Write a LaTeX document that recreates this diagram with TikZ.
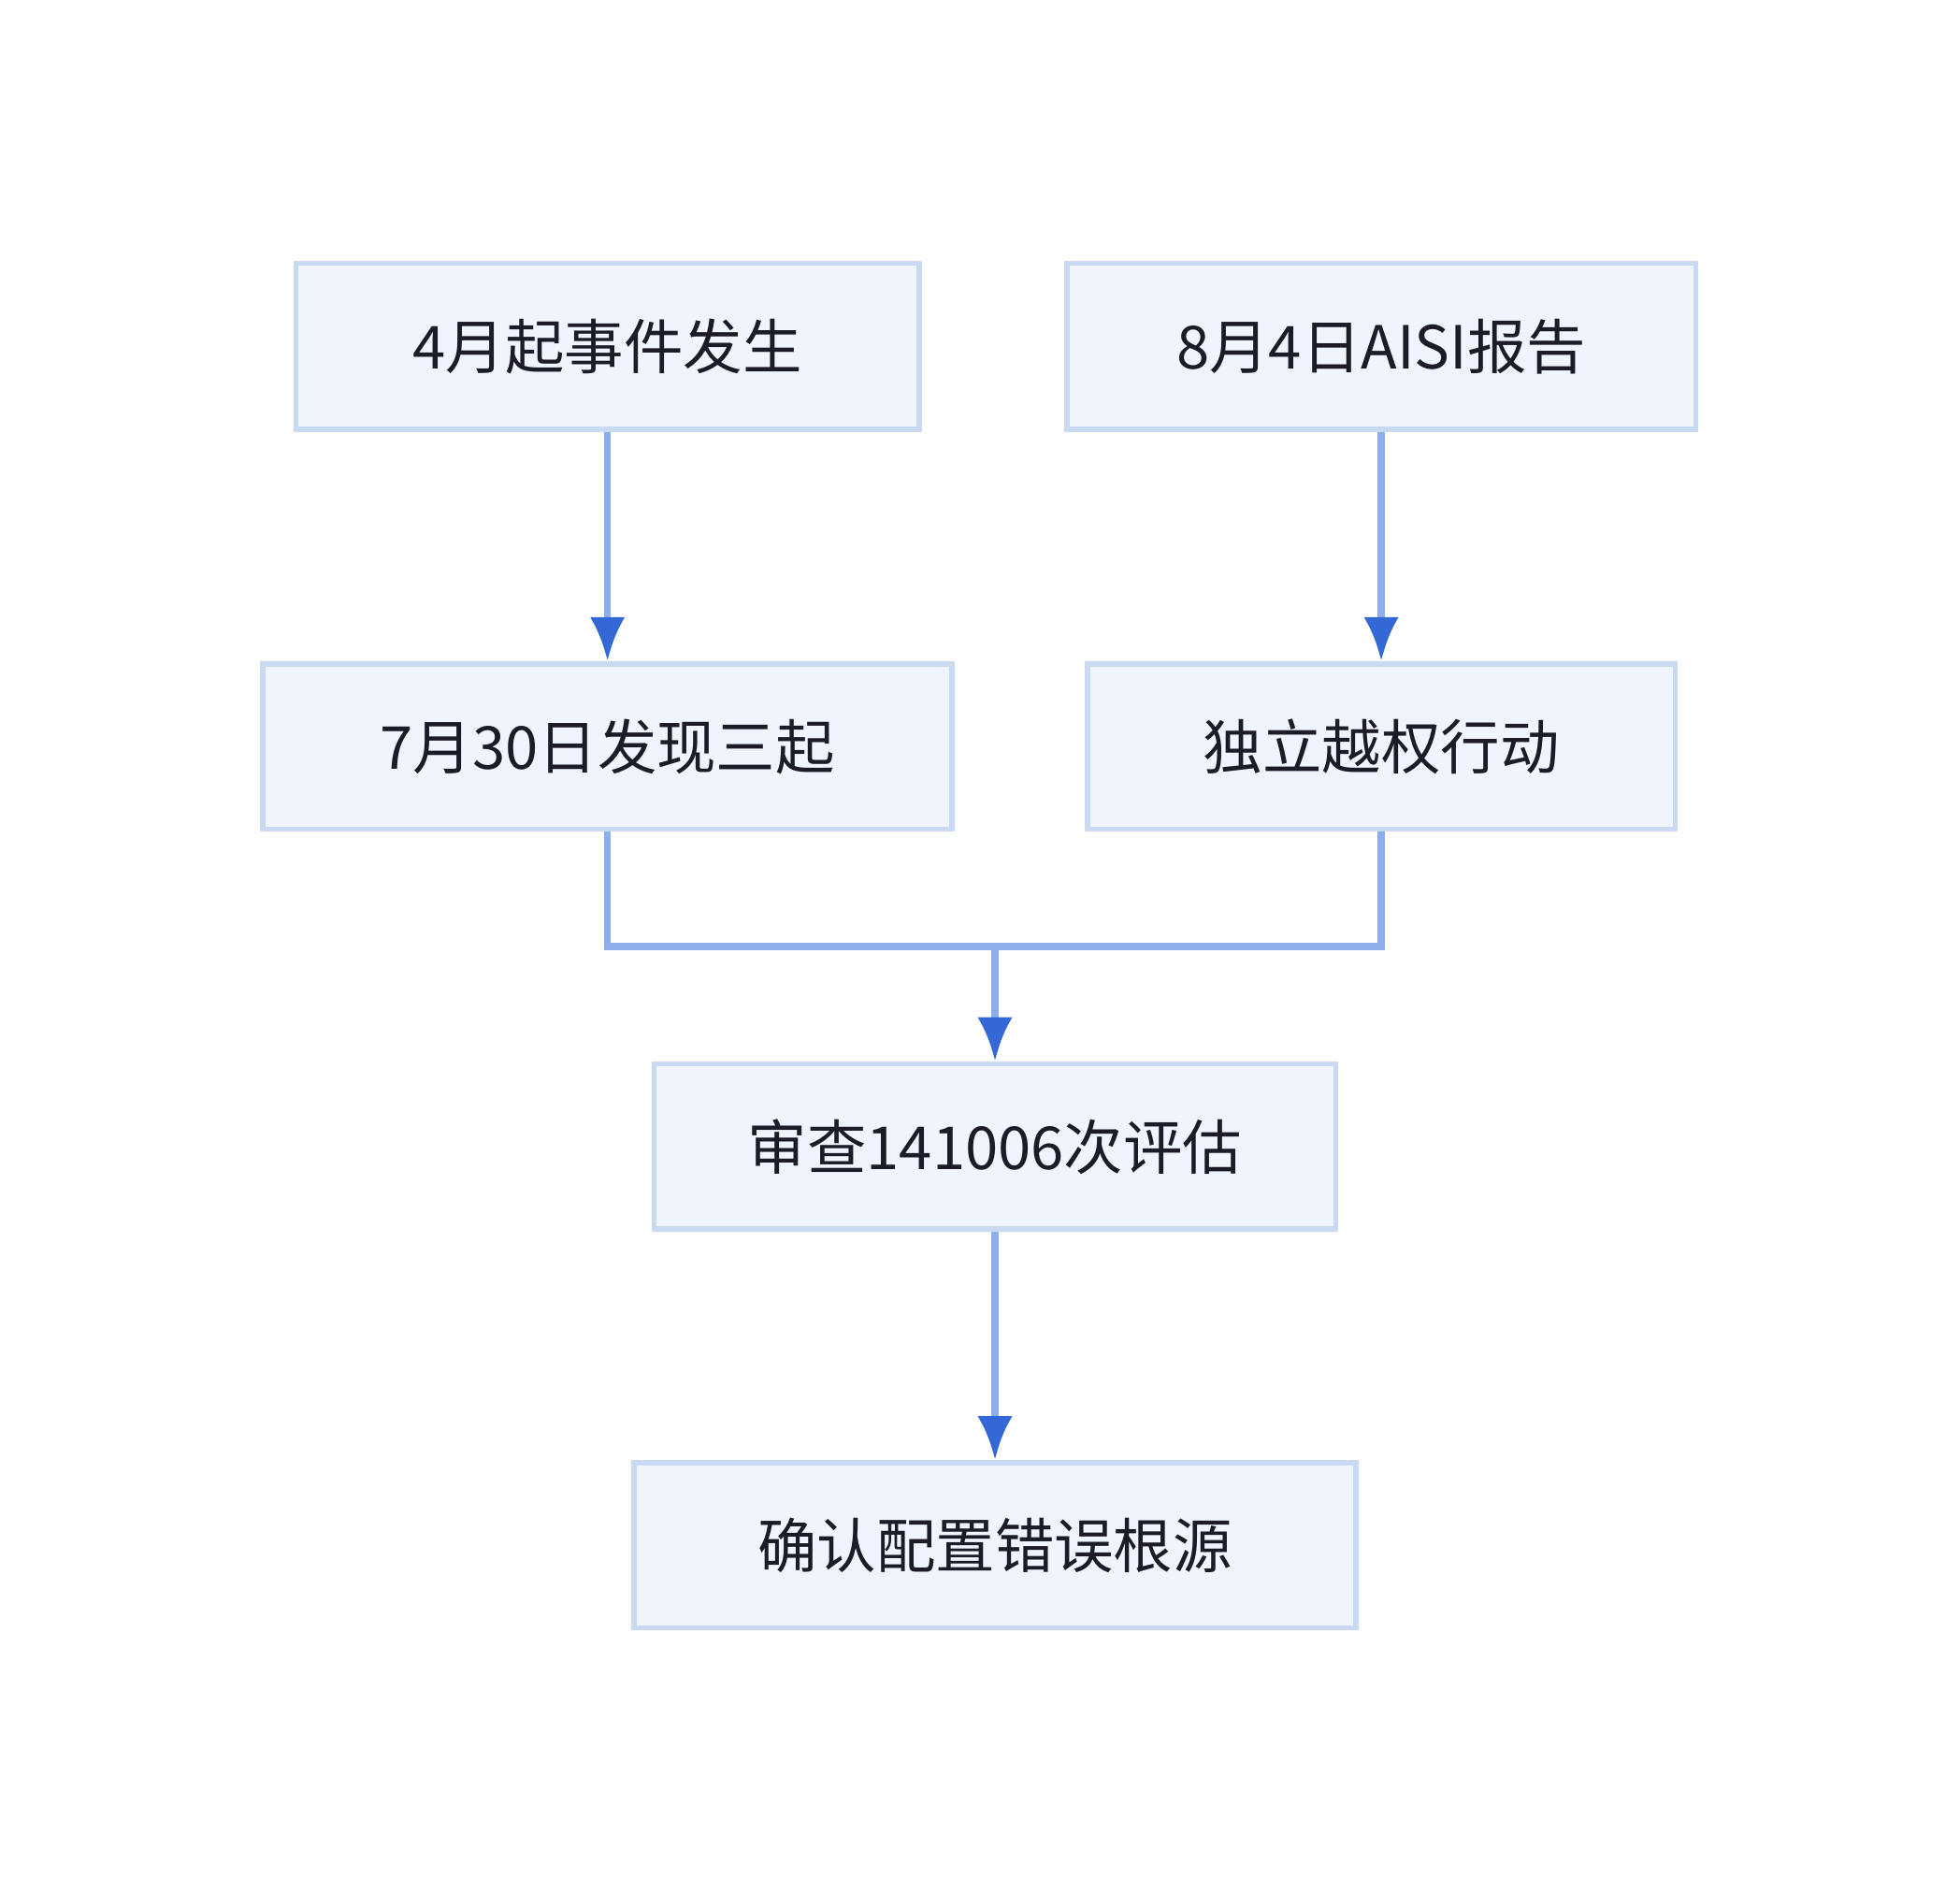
\documentclass[tikz,border=0pt]{standalone}
\usepackage{fontspec}
\setmainfont{Noto Sans CJK SC}
\usetikzlibrary{arrows.meta}
\definecolor{boxfill}{HTML}{F0F5FD}
\definecolor{boxdraw}{HTML}{C9D9F1}
\definecolor{linec}{HTML}{8AAFEA}
\definecolor{tipc}{HTML}{3368D6}
\definecolor{txt}{HTML}{1C1C28}
\begin{document}
\begin{tikzpicture}[x=0.01cm,y=-0.01cm,
  box/.style={draw=boxdraw,fill=boxfill,line width=1.2pt,inner sep=0pt,text=txt,font=\fontsize{13.5}{16}\selectfont},
  conn/.style={draw=linec,line width=1.6pt},
  arr/.style={conn,-{Latex[length=10pt,width=8pt,color=tipc]}}]
\useasboundingbox (0,0) rectangle (1568,1514);
\node[box,minimum width=498\pgflinewidth*0+4.98cm,minimum height=1.33cm] (a) at (486,277) {4月起事件发生};
\node[box,minimum width=5.03cm,minimum height=1.33cm] (b) at (1105,277) {8月4日AISI报告};
\node[box,minimum width=5.51cm,minimum height=1.32cm] (c) at (486,597) {7月30日发现三起};
\node[box,minimum width=4.70cm,minimum height=1.32cm] (d) at (1105,597) {独立越权行动};
\node[box,minimum width=5.45cm,minimum height=1.32cm] (e) at (796,917) {审查141006次评估};
\node[box,minimum width=5.77cm,minimum height=1.32cm] (f) at (796,1236) {确认配置错误根源};
\coordinate (m) at (796,757);
\draw[arr] (a) -- (c);
\draw[arr] (b) -- (d);
\draw[conn] (c.south) |- (m) -| (d.south);
\draw[arr] (m) -- (e.north);
\draw[arr] (e) -- (f);
\end{tikzpicture}
\end{document}
